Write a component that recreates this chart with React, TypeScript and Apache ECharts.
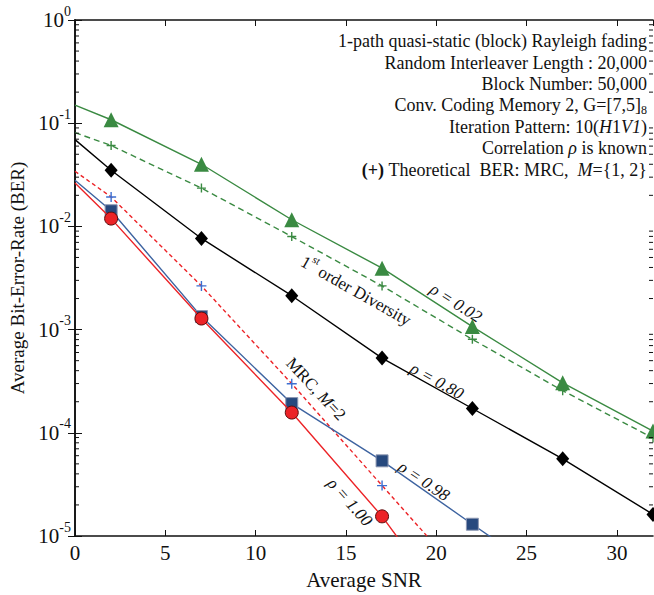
import React, { useEffect, useRef } from "react";
import * as echarts from "echarts";

const FONT = '"Liberation Serif", "Times New Roman", serif';

// Average SNR sample points
const snr = [0, 2, 7, 12, 17, 22, 27, 32];
// rho = 0.02 (green triangles)
const rho002 = [0.15, 0.108, 0.04, 0.0116, 0.00394, 0.00107, 3.05e-4, 1.04e-4];
// Theoretical BER, MRC M=1 (1st order diversity, green dashed)
const theoryM1 = [0.081, 0.0608, 0.0235, 0.00798, 0.00265, 8.05e-4, 2.56e-4, 8.9e-5];
// rho = 0.80 (black diamonds)
const rho080 = [0.0693, 0.035, 0.00764, 0.00213, 5.3e-4, 1.72e-4, 5.6e-5, 1.62e-5];
// Theoretical BER, MRC M=2 (red dashed, blue plus)
const theoryM2 = [0.0342, 0.0193, 0.00265, 2.99e-4, 3.08e-5, 3.2e-6];
// rho = 0.98 (blue squares)
const rho098 = [0.028, 0.01417, 0.001337, 1.92e-4, 5.35e-5, 1.3e-5, 3.2e-6];
// rho = 1.00 (red circles)
const rho100 = [0.0263, 0.0119, 0.00128, 1.57e-4, 1.55e-5, 1.0e-6];

const yMin = 1e-5;
const yMax = 1;
const xMin = 0;
const xMax = 32;
const minorMultipliers = [2, 3, 4, 5, 6, 7, 8, 9];
const decades = [-5, -4, -3, -2, -1];

const GREEN = "#3a8a42";
const BLUE = "#3d63a0";
const SQUARE = "#27497e";
const RED = "#ec2327";
const PLUS_BLUE = "#3c6fd1";

const PLUS = "path://M5 0V10M0 5H10";

function build(values: number[], xs: number[]) {
  return values.map((v, i) => {
    const item: any = { value: [xs[i], v] };
    if (xs[i] === 0 || v < yMin) item.symbol = "none";
    return item;
  });
}

export default function App() {
  const ref = useRef<HTMLDivElement>(null);

  useEffect(() => {
    document.body.style.margin = "0";
    if (!ref.current) return;
    const chart = echarts.init(ref.current, undefined, { renderer: "svg" });

    const minorData: number[][] = [];
    decades.forEach((d) => {
      minorMultipliers.forEach((m) => {
        minorData.push([0, m * Math.pow(10, d)]);
      });
    });

    const tickLabelRich = {
      b: { fontSize: 21, fontFamily: FONT, color: "#111", lineHeight: 32 },
      s: { fontSize: 14, fontFamily: FONT, color: "#111", verticalAlign: "top" },
    };

    const lineCommon = {
      type: "line",
      showAllSymbol: true,
      animation: false,
      clip: true,
    };

    const fz = (s: string, px: number) => `${s} ${px}px ${FONT}`.trim();

    const infoLines: string[] = [
      "{n|1-path quasi-static (block) Rayleigh fading}",
      "{n|Random Interleaver Length : 20,000}",
      "{n|Block Number: 50,000}",
      "{n|Conv. Coding Memory 2, G=[7,5]}{sub|8}",
      "{n|Iteration Pattern: 10(}{i|H}{n|1}{i|V1}{n|)}",
      "{n|Correlation }{i|ρ}{n| is known}",
      "{b|(+)}{n| Theoretical  BER: MRC,  }{i|M}{n|=\\{1, 2\\}}",
    ];
    const infoRich = {
      n: { font: fz("", 18), fill: "#111", lineHeight: 22 },
      i: { font: fz("italic", 18), fill: "#111", lineHeight: 22 },
      b: { font: fz("bold", 18), fill: "#111", lineHeight: 22 },
      sub: { font: fz("", 12), fill: "#111", verticalAlign: "bottom", lineHeight: 14 },
    };
    const infoY = [41, 63, 84, 105, 127, 148, 170];

    const graphics: any[] = infoLines.map((t, idx) => ({
      type: "text",
      x: 647,
      y: infoY[idx],
      silent: true,
      style: {
        text: t.replace(/\\\{/g, "{").replace(/\\\}/g, "}"),
        font: fz("", 18),
        fill: "#111",
        align: "right",
        verticalAlign: "middle",
        rich: infoRich,
      },
    }));

    const annoRich = {
      n: { font: fz("", 17), fill: "#111", lineHeight: 26 },
      i: { font: fz("italic", 17), fill: "#111", lineHeight: 26 },
      sup: { font: fz("", 11), fill: "#111", verticalAlign: "top", lineHeight: 12 },
    };
    const annotations = [
      { text: "{n|1}{sup|st}{n| order Diversity}", x: 356, y: 291, r: -0.515 },
      { text: "{i|ρ = 0.02}", x: 456, y: 303, r: -0.567 },
      { text: "{i|ρ = 0.80}", x: 437, y: 381, r: -0.506 },
      { text: "{n|MRC, }{i|M}{n|=2}", x: 316, y: 389, r: -0.82 },
      { text: "{i|ρ = 0.98}", x: 424, y: 481, r: -0.593 },
      { text: "{i|ρ = 1.00}", x: 350, y: 502, r: -0.84 },
    ];
    annotations.forEach((a) => {
      graphics.push({
        type: "text",
        x: a.x,
        y: a.y,
        rotation: a.r,
        silent: true,
        style: {
          text: a.text,
          font: fz("", 17),
          fill: "#111",
          align: "center",
          verticalAlign: "middle",
          rich: annoRich,
        },
      });
    });

    const option: any = {
      animation: false,
      backgroundColor: "#fff",
      grid: { left: 75, right: 1, top: 20, bottom: 53, containLabel: false },
      xAxis: [
        {
          type: "value",
          min: xMin,
          max: xMax,
          interval: 5,
          name: "Average SNR",
          nameLocation: "middle",
          nameGap: 33,
          nameTextStyle: { fontSize: 21, fontFamily: FONT, color: "#111" },
          axisLine: { lineStyle: { color: "#111", width: 1.6 } },
          axisTick: { inside: true, length: 6, lineStyle: { color: "#111", width: 1 } },
          axisLabel: {
            fontSize: 21,
            fontFamily: FONT,
            color: "#111",
            margin: 6,
            showMaxLabel: false,
            formatter: (v: number) => (v % 5 === 0 ? String(v) : ""),
          },
          splitLine: { show: false },
        },
        {
          type: "value",
          position: "top",
          min: xMin,
          max: xMax,
          interval: 5,
          axisLine: { lineStyle: { color: "#111", width: 1.6 } },
          axisTick: { inside: true, length: 6, lineStyle: { color: "#111", width: 1 } },
          axisLabel: { show: false },
          splitLine: { show: false },
        },
      ],
      yAxis: [
        {
          type: "log",
          logBase: 10,
          min: yMin,
          max: yMax,
          splitNumber: 5,
          name: "Average Bit-Error-Rate (BER)",
          nameLocation: "middle",
          nameGap: 46,
          nameTextStyle: { fontSize: 19, fontFamily: FONT, color: "#111" },
          axisLine: { show: true, lineStyle: { color: "#111", width: 1.6 } },
          axisTick: { inside: true, length: 7, lineStyle: { color: "#111", width: 1 } },
          axisLabel: {
            margin: 4,
            formatter: (v: number) => `{b|10}{s|${Math.round(Math.log10(v))}}`,
            rich: tickLabelRich,
          },
          splitLine: { show: false },
        },
        {
          type: "log",
          logBase: 10,
          min: yMin,
          max: yMax,
          splitNumber: 5,
          position: "right",
          axisLine: { show: true, lineStyle: { color: "#111", width: 1.6 } },
          axisTick: { inside: true, length: 7, lineStyle: { color: "#111", width: 1 } },
          axisLabel: { show: false },
          splitLine: { show: false },
        },
      ],
      series: [
        {
          ...lineCommon,
          name: "rho002",
          data: build(rho002, snr),
          symbol: "triangle",
          symbolSize: 15,
          lineStyle: { color: GREEN, width: 1.4 },
          itemStyle: { color: GREEN },
          z: 3,
        },
        {
          ...lineCommon,
          name: "theoryM1",
          data: build(theoryM1, snr),
          symbol: PLUS,
          symbolSize: 9,
          lineStyle: { color: GREEN, width: 1.4, type: [6, 4] },
          itemStyle: { color: "none", borderColor: GREEN, borderWidth: 1.4 },
          z: 3,
        },
        {
          ...lineCommon,
          name: "rho080",
          data: build(rho080, snr),
          symbol: "diamond",
          symbolSize: [13, 15],
          lineStyle: { color: "#000", width: 1.4 },
          itemStyle: { color: "#000" },
          z: 3,
        },
        {
          ...lineCommon,
          name: "theoryM2",
          data: build(theoryM2, snr),
          symbol: PLUS,
          symbolSize: 10,
          lineStyle: { color: RED, width: 1.4, type: [4, 3] },
          itemStyle: { color: "none", borderColor: PLUS_BLUE, borderWidth: 1.4 },
          z: 3,
        },
        {
          ...lineCommon,
          name: "rho098",
          data: build(rho098, snr),
          symbol: "rect",
          symbolSize: 12,
          lineStyle: { color: BLUE, width: 1.4 },
          itemStyle: { color: SQUARE, borderColor: "#8c97b2", borderWidth: 1 },
          z: 3,
        },
        {
          ...lineCommon,
          name: "rho100",
          data: build(rho100, snr),
          symbol: "circle",
          symbolSize: 13,
          lineStyle: { color: RED, width: 1.4 },
          itemStyle: { color: RED, borderColor: "#5a0d0d", borderWidth: 1 },
          z: 4,
        },
        {
          type: "custom",
          name: "minorTicks",
          silent: true,
          data: minorData,
          encode: { x: 0, y: 1 },
          renderItem: (params: any, api: any) => {
            const v = api.value(1);
            const pl = api.coord([xMin, v]);
            const pr = api.coord([xMax, v]);
            return {
              type: "group",
              children: [
                {
                  type: "line",
                  shape: { x1: pl[0], y1: pl[1], x2: pl[0] + 4, y2: pl[1] },
                  style: { stroke: "#111", lineWidth: 1 },
                },
                {
                  type: "line",
                  shape: { x1: pr[0] - 4, y1: pr[1], x2: pr[0], y2: pr[1] },
                  style: { stroke: "#111", lineWidth: 1 },
                },
              ],
            };
          },
          z: 5,
        },
      ],
      graphic: graphics,
    };

    chart.setOption(option);
    return () => chart.dispose();
  }, []);

  return <div ref={ref} style={{ width: 654, height: 595 }} />;
}
